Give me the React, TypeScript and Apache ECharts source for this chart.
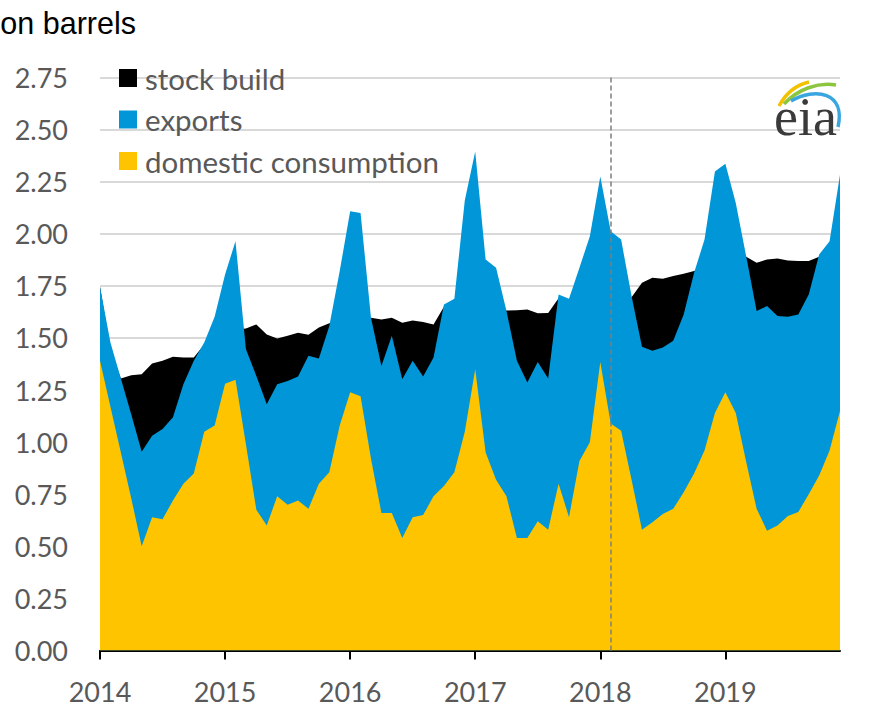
import React, { useEffect, useRef } from "react";
import * as echarts from "echarts";

const years = ["2014", "2015", "2016", "2017", "2018", "2019"];
const months = ["01", "02", "03", "04", "05", "06", "07", "08", "09", "10", "11", "12"];
const categories = years.flatMap((y) => months.map((m) => `${y}-${m}`));

// million barrels per day, monthly Jan 2014 - Dec 2019
const domesticConsumption = [
  1.39, 1.17, 0.95, 0.73, 0.5, 0.64, 0.63, 0.72, 0.8, 0.85, 1.05, 1.08,
  1.28, 1.3, 0.99, 0.675, 0.6, 0.74, 0.7, 0.72, 0.68, 0.8, 0.855, 1.08,
  1.24, 1.22, 0.92, 0.66, 0.66, 0.54, 0.64, 0.65, 0.74, 0.79, 0.855, 1.05,
  1.35, 0.95, 0.82, 0.74, 0.54, 0.54, 0.62, 0.58, 0.8, 0.64, 0.91, 1.0,
  1.385, 1.09, 1.055, 0.82, 0.58, 0.615, 0.655, 0.68, 0.76, 0.85, 0.96, 1.14,
  1.24, 1.14, 0.905, 0.68, 0.575, 0.6, 0.645, 0.665, 0.75, 0.84, 0.96, 1.15,
];

const exportsVals = [
  0.356, 0.308, 0.355, 0.403, 0.454, 0.391, 0.433, 0.399, 0.478, 0.54, 0.428, 0.522,
  0.525, 0.664, 0.456, 0.643, 0.582, 0.538, 0.594, 0.595, 0.734, 0.601, 0.702, 0.741,
  0.868, 0.88, 0.677, 0.706, 0.85, 0.762, 0.75, 0.665, 0.666, 0.871, 0.833, 1.11,
  1.045, 0.926, 1.017, 0.889, 0.85, 0.746, 0.765, 0.725, 0.909, 1.048, 0.927, 0.988,
  0.89, 0.922, 0.917, 0.881, 0.878, 0.823, 0.799, 0.806, 0.853, 0.963, 1.012, 1.159,
  1.096, 1.008, 0.987, 0.949, 1.078, 1.005, 0.957, 0.948, 0.959, 1.06, 1.004, 1.133,
];

const stockBuild = [
  0.0, -0.03, 0.0, 0.188, 0.372, 0.346, 0.327, 0.291, 0.128, 0.016, -0.01, -0.1,
  -0.285, -0.424, 0.099, 0.247, 0.335, 0.219, 0.216, 0.21, 0.101, 0.149, 0.013, -0.241,
  -0.518, -0.5, 0.0, 0.223, 0.087, 0.271, 0.194, 0.261, 0.159, -0.011, -0.028, -0.5,
  -0.735, -0.226, -0.197, 0.003, 0.243, 0.35, 0.233, 0.315, -0.019, -0.008, -0.137, -0.268,
  -0.555, -0.312, -0.272, -0.006, 0.307, 0.351, 0.33, 0.311, 0.195, 0.008, -0.132, -0.449,
  -0.476, -0.278, -0.002, 0.232, 0.223, 0.276, 0.27, 0.256, 0.16, -0.01, -0.044, -0.333,
];

const yTicks = [0, 0.25, 0.5, 0.75, 1.0, 1.25, 1.5, 1.75, 2.0, 2.25, 2.5, 2.75];
const markerMonth = "2018-02";

const COLORS = { stock: "#000000", exports: "#0096d7", domestic: "#ffc400" };
const LABEL_FONT = "Lato";

export default function App() {
  const ref = useRef<HTMLDivElement>(null);

  useEffect(() => {
    if (!ref.current) return;
    const chart = echarts.init(ref.current, undefined, { renderer: "svg" });

    const exportsTop = domesticConsumption.map((c, i) => +(c + exportsVals[i]).toFixed(4));
    const totalTop = exportsTop.map((b, i) => +(b + stockBuild[i]).toFixed(4));

    const areaSeries = (name: string, data: number[], color: string, z: number) => ({
      name,
      type: "line",
      data,
      color,
      symbol: "none",
      showSymbol: false,
      z,
      lineStyle: { width: 0, color },
      itemStyle: { color },
      areaStyle: { color, opacity: 1 },
      silent: true,
    });

    const yearIdx = (i: number) => i % 12 === 0;

    chart.setOption({
      animation: false,
      grid: { left: 100, top: 77.5, width: 740, height: 574.5, containLabel: false },
      legend: {
        orient: "vertical",
        left: 119,
        top: 63,
        padding: 0,
        icon: "rect",
        itemWidth: 18,
        itemHeight: 18,
        itemGap: 11.5,
        selectedMode: false,
        data: ["stock build", "exports", "domestic consumption"],
        textStyle: { fontSize: 29.5, color: "#595959", fontFamily: LABEL_FONT, lineHeight: 18, padding: [0, 0, 0, 3] },
      },
      xAxis: {
        type: "category",
        data: categories,
        boundaryGap: false,
        axisLine: { show: true, lineStyle: { color: "#000", width: 2 } },
        axisTick: { show: true, interval: yearIdx, length: 9, lineStyle: { color: "#000", width: 2 } },
        axisLabel: {
          interval: yearIdx,
          formatter: (v: string) => v.slice(0, 4),
          fontSize: 27,
          lineHeight: 20,
          color: "#595959",
          fontFamily: LABEL_FONT,
          margin: 31,
        },
        splitLine: { show: false },
      },
      yAxis: {
        type: "value",
        min: yTicks[0],
        max: yTicks[yTicks.length - 1],
        interval: 0.25,
        axisLine: { show: false },
        axisTick: { show: false },
        axisLabel: {
          formatter: (v: number) => v.toFixed(2),
          fontSize: 27,
          color: "#595959",
          fontFamily: LABEL_FONT,
          margin: 32,
        },
        splitLine: { show: true, lineStyle: { color: "#d9d9d9", width: 2 } },
      },
      series: [
        areaSeries("stock build", totalTop, COLORS.stock, 2),
        areaSeries("exports", exportsTop, COLORS.exports, 3),
        {
          ...areaSeries("domestic consumption", domesticConsumption, COLORS.domestic, 4),
          markLine: {
            silent: true,
            symbol: ["none", "none"],
            label: { show: false },
            lineStyle: { color: "#7f7f7f", type: [5, 3], width: 1.5 },
            data: [{ xAxis: markerMonth }],
          },
        },
      ],
      graphic: [
        {
          type: "text",
          x: 136,
          y: 23,
          style: {
            text: "million barrels",
            fontSize: 30.5,
            fontFamily: "Liberation Sans",
            fill: "#000",
            textAlign: "right",
            textVerticalAlign: "middle",
          },
          z: 10,
        },
        {
          type: "text",
          x: 774,
          y: 117,
          style: {
            text: "eia",
            fontSize: 54,
            fontFamily: "Liberation Serif",
            fill: "#3a3a3a",
            textAlign: "left",
            textVerticalAlign: "middle",
          },
          z: 10,
        },
        {
          type: "bezierCurve",
          shape: { x1: 779, y1: 106, cpx1: 786, cpy1: 93, cpx2: 796, cpy2: 85, x2: 809, y2: 82 },
          style: { stroke: "#f2c200", lineWidth: 3.5, fill: "none" },
          z: 10,
        },
        {
          type: "bezierCurve",
          shape: { x1: 784, y1: 104, cpx1: 798, cpy1: 89, cpx2: 818, cpy2: 82, x2: 836, y2: 85 },
          style: { stroke: "#8cc63f", lineWidth: 3.5, fill: "none" },
          z: 10,
        },
        {
          type: "bezierCurve",
          shape: { x1: 791, y1: 101, cpx1: 815, cpy1: 87, cpx2: 846, cpy2: 92, x2: 838, y2: 127 },
          style: { stroke: "#3aa6e0", lineWidth: 3.5, fill: "none" },
          z: 10,
        },
      ],
    });

    return () => chart.dispose();
  }, []);

  return (
    <div
      ref={ref}
      style={{ position: "absolute", left: 0, top: 0, width: 878, height: 705 }}
    />
  );
}
